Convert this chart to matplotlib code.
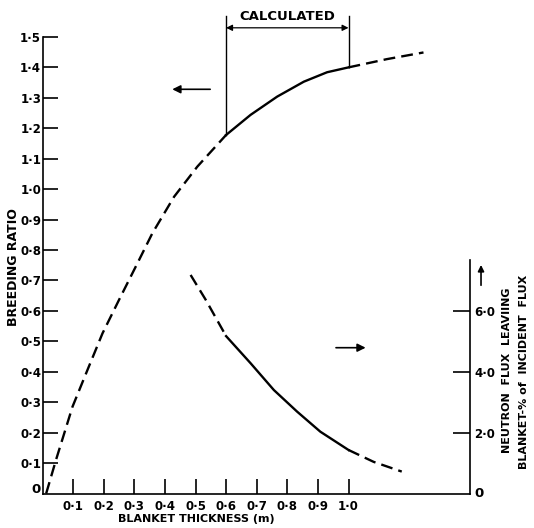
import matplotlib
matplotlib.use("Agg")
from matplotlib import pyplot as plt

# breeding ratio vs blanket thickness (left axis)
br_x = [0.012, 0.044, 0.098, 0.147, 0.196, 0.25, 0.31, 0.359, 0.43, 0.506, 0.6,
        0.68, 0.767, 0.854, 0.93, 1.0, 1.125, 1.245]
br_y = [0.0, 0.11, 0.285, 0.406, 0.526, 0.636, 0.756, 0.855, 0.975, 1.074, 1.178,
        1.244, 1.304, 1.353, 1.384, 1.40, 1.427, 1.449]

# neutron flux leaving blanket, % of incident (right axis)
fl_x = [0.484, 0.533, 0.6, 0.68, 0.756, 0.832, 0.908, 1.0, 1.082, 1.174]
fl_y = [7.18, 6.37, 5.17, 4.28, 3.40, 2.69, 2.03, 1.43, 1.04, 0.72]

calc_lo, calc_hi = 0.6, 1.0  # calculated range, rest is extrapolated

x_ticks = [0.1, 0.2, 0.3, 0.4, 0.5, 0.6, 0.7, 0.8, 0.9, 1.0]
x_labels = ['0·1', '0·2', '0·3', '0·4', '0·5', '0·6', '0·7', '0·8', '0·9', '1·0']
y_ticks = [0.1, 0.2, 0.3, 0.4, 0.5, 0.6, 0.7, 0.8, 0.9, 1.0, 1.1, 1.2, 1.3, 1.4, 1.5]
y_labels = ['0·1', '0·2', '0·3', '0·4', '0·5', '0·6', '0·7', '0·8', '0·9',
            '1·0', '1·1', '1·2', '1·3', '1·4', '1·5']
r_ticks = [2.0, 4.0, 6.0]
r_labels = ['2·0', '4·0', '6·0']

plt.rcParams['font.family'] = 'DejaVu Sans'
plt.rcParams['font.weight'] = 'bold'

fig = plt.figure(figsize=(5.34, 5.28), dpi=100)
ax = fig.add_axes([42.5 / 534, 34.5 / 528, 427.5 / 534, 487 / 528])
ax.set_xlim(0, 1.397)
ax.set_ylim(0, 1.6)

ax2 = ax.twinx()
ax2.set_ylim(0, 16)

dash = (0, (5, 2.6))
lw = 1.7

def split(xs, ys):
    # split a curve into dashed / solid / dashed parts
    def part(cond):
        return [x for x in xs if cond(x)], [y for x, y in zip(xs, ys) if cond(x)]
    return (part(lambda x: x <= calc_lo), part(lambda x: calc_lo <= x <= calc_hi),
            part(lambda x: x >= calc_hi))

a, b, c = split(br_x, br_y)
ax.plot(*a, color='black', lw=lw, linestyle=dash)
ax.plot(*b, color='black', lw=lw, solid_joinstyle='round')
ax.plot(*c, color='black', lw=lw, linestyle=dash)

a, b, c = split(fl_x, fl_y)
ax2.plot(*a, color='black', lw=lw, linestyle=dash)
ax2.plot(*b, color='black', lw=lw, solid_joinstyle='round')
ax2.plot(*c, color='black', lw=lw, linestyle=dash)

ax.spines['top'].set_visible(False)
ax2.spines['top'].set_visible(False)
ax.spines['right'].set_visible(False)
ax2.spines['left'].set_visible(False)
ax2.spines['bottom'].set_visible(False)
ax.spines['left'].set_bounds(0, 1.5)
ax2.spines['right'].set_bounds(0, 7.67)
for sp in [ax.spines['left'], ax.spines['bottom'], ax2.spines['right']]:
    sp.set_linewidth(1.2)

ax.set_xticks(x_ticks)
ax.set_xticklabels(x_labels)
ax.set_yticks(y_ticks)
ax.set_yticklabels(y_labels)
ax.tick_params(axis='both', direction='in', length=11, width=1.2, labelsize=8.5)
ax.tick_params(axis='y', pad=1)
ax.tick_params(axis='x', pad=5)

ax2.set_yticks(r_ticks)
ax2.set_yticklabels(r_labels)
ax2.tick_params(axis='y', direction='in', length=12, width=1.2, labelsize=8.5, pad=3)

# zero labels at the corners
ax.text(-0.006, 0.013, '0', ha='right', va='center', fontsize=9.5)
ax2.text(1.425, 0.0, '0', ha='center', va='center', fontsize=9.5, clip_on=False)

# "calculated" bracket
ax.plot([calc_lo, calc_lo], [1.178, 1.57], color='black', lw=1.0)
ax.plot([calc_hi, calc_hi], [1.40, 1.57], color='black', lw=1.0)
ax.annotate('', xy=(calc_lo, 1.53), xytext=(calc_hi, 1.53),
            arrowprops=dict(arrowstyle='<|-|>', color='black', lw=0.9,
                            mutation_scale=9, shrinkA=0, shrinkB=0))
ax.text((calc_lo + calc_hi) / 2, 1.545, 'CALCULATED', ha='center', va='bottom', fontsize=9.5)

# arrows telling which axis each curve belongs to
ax.annotate('', xy=(0.415, 1.328), xytext=(0.557, 1.328),
            arrowprops=dict(arrowstyle='-|>', color='black', lw=1.2, mutation_scale=12))
ax.annotate('', xy=(1.065, 0.479), xytext=(0.95, 0.479),
            arrowprops=dict(arrowstyle='-|>', color='black', lw=1.2, mutation_scale=12))
ax2.annotate('', xy=(1.433, 7.6), xytext=(1.433, 6.75),
             arrowprops=dict(arrowstyle='-|>', color='black', lw=1.2, mutation_scale=9),
             annotation_clip=False)

# axis titles
fig.text(14 / 534, 1 - 267 / 528, 'BREEDING RATIO', rotation=90, ha='center', va='center', fontsize=9)
fig.text(196 / 534, 1 - 519 / 528, 'BLANKET THICKNESS (m)', ha='center', va='center', fontsize=8)
fig.text(507 / 534, 1 - 370 / 528, 'NEUTRON  FLUX  LEAVIING', rotation=90,
         ha='center', va='center', fontsize=8)
fig.text(524 / 534, 1 - 372 / 528, 'BLANKET-% of  INCIDENT  FLUX', rotation=90,
         ha='center', va='center', fontsize=8)

fig.savefig('out.png', dpi=100)
